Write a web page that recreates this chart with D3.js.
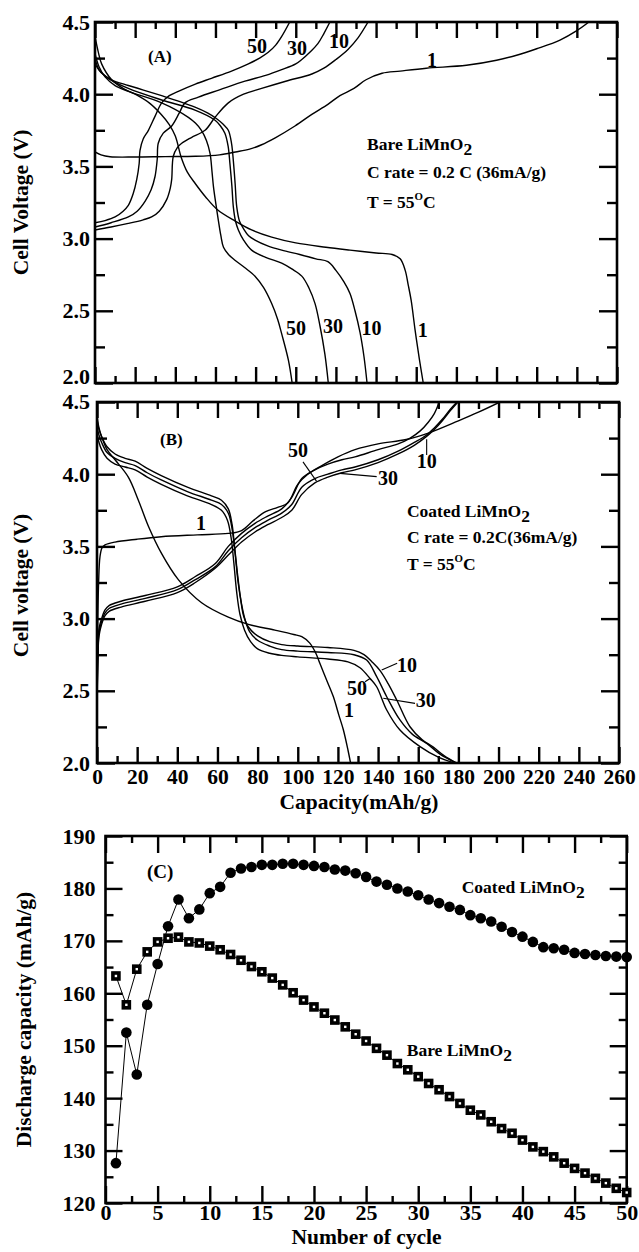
<!DOCTYPE html>
<html>
<head>
<meta charset="utf-8">
<script src="https://cdn.jsdelivr.net/npm/d3@7"></script>
<style>
  html, body { margin: 0; padding: 0; background: #fff; }
  svg { display: block; }
  text { font-family: "Liberation Serif", "Times New Roman", serif; font-weight: bold; fill: #000; }
</style>
</head>
<body>
<svg id="chart" width="639" height="1252"></svg>
<script>
// ---------- tick values ----------
const capMajor = d3.range(0, 261, 20);
const capMinor = d3.range(10, 260, 20);
const voltMajor = [2.0, 2.5, 3.0, 3.5, 4.0, 4.5];
const voltMinor = [2.25, 2.75, 3.25, 3.75, 4.25];
const cycleMajor = d3.range(0, 51, 5);
const cycleMinor = d3.range(2.5, 50, 5);
const dischargeMajor = d3.range(120, 191, 10);
const dischargeMinor = d3.range(125, 190, 10);

// ---------- (A) bare LiMnO2 : [capacity mAh/g, voltage V] ----------
const bareCharge1 = [[0,3.60],[3,3.58],[7.5,3.567],[20,3.565],[35,3.568],[50,3.57],[62,3.58],[70,3.60],[77,3.62],[83,3.65],[90,3.70],[99.6,3.78],[108,3.86],[116,3.93],[122,3.99],[129,4.04],[135,4.10],[143,4.145],[152,4.16],[165,4.18],[185,4.20],[200,4.235],[210,4.27],[220,4.315],[231.6,4.375],[240,4.44],[246,4.5]];
const bareCharge10 = [[0,3.06],[8,3.08],[16.6,3.105],[24,3.13],[28.2,3.15],[32,3.19],[35.7,3.27],[37.5,3.35],[38.2,3.41],[39,3.57],[41,3.63],[43.2,3.66],[48,3.70],[54.8,3.75],[59.8,3.84],[66.4,3.94],[74,4.00],[83,4.04],[95,4.09],[108,4.14],[114,4.18],[120,4.24],[126,4.31],[131,4.39],[136,4.5]];
const bareCharge30 = [[0,3.08],[8,3.11],[16.6,3.15],[21,3.19],[25,3.26],[28,3.34],[29.9,3.43],[31,3.55],[31.5,3.66],[34,3.73],[38.2,3.78],[42,3.87],[44.8,3.94],[51.5,3.98],[62,4.03],[74.7,4.09],[85,4.13],[93,4.17],[100,4.21],[103,4.24],[107,4.29],[111,4.35],[114,4.42],[117,4.5]];
const bareCharge50 = [[0,3.11],[5,3.125],[10,3.15],[14,3.19],[16.6,3.23],[19,3.31],[20.8,3.41],[22,3.52],[22.4,3.61],[24,3.69],[26.6,3.75],[30,3.85],[33.2,3.94],[37,3.99],[41.5,4.02],[50,4.07],[58,4.11],[68,4.16],[76.4,4.21],[82,4.25],[86.3,4.29],[90,4.34],[93,4.40],[97,4.5]];
const bareDischarge1 = [[0,4.40],[1.5,4.30],[3.3,4.21],[8.3,4.10],[14,4.04],[20,4.0],[27,3.94],[33,3.86],[37,3.79],[40,3.71],[43,3.56],[46,3.46],[50,3.38],[55,3.29],[61,3.20],[70,3.12],[78,3.06],[88,3.01],[100,2.97],[115,2.94],[127,2.92],[140,2.90],[148,2.89],[152,2.86],[154.5,2.78],[156,2.68],[157.5,2.57],[159.4,2.37],[161.5,2.17],[163.5,2.0]];
const bareDischarge10 = [[0,4.21],[3,4.15],[8.3,4.10],[16.6,4.06],[33.2,3.99],[49.8,3.91],[56,3.87],[60.6,3.83],[64,3.79],[66.4,3.75],[68,3.66],[68.9,3.54],[69.8,3.38],[70.6,3.22],[72,3.12],[73.9,3.07],[76.5,3.02],[79.7,2.99],[86,2.95],[93,2.92],[102,2.89],[110,2.86],[116,2.84],[120,2.78],[124,2.70],[127,2.62],[129.5,2.50],[132,2.35],[134,2.18],[135.5,2.0]];
const bareDischarge30 = [[0,4.25],[2,4.17],[6.6,4.11],[16.6,4.04],[33.2,3.96],[49.8,3.89],[59.8,3.82],[62.5,3.78],[64.7,3.73],[66.3,3.64],[67.2,3.52],[68.2,3.36],[68.9,3.22],[70,3.12],[71.4,3.06],[74,2.99],[78,2.92],[85,2.87],[93,2.83],[98,2.79],[103,2.74],[106.5,2.66],[109.6,2.55],[112,2.40],[114.5,2.2],[116.2,2.0]];
const bareDischarge50 = [[0,4.28],[2,4.19],[5,4.12],[10,4.06],[16.6,4.02],[33.2,3.94],[46.5,3.84],[50,3.80],[53,3.75],[55.5,3.68],[57.3,3.59],[58.3,3.46],[59,3.36],[60.2,3.24],[61.4,3.13],[62.7,3.02],[64,2.94],[66.5,2.89],[69.7,2.85],[74.5,2.80],[79.7,2.74],[84,2.66],[88,2.55],[91,2.44],[93,2.34],[96.3,2.16],[98.2,2.0]];

// ---------- (B) coated LiMnO2 : [capacity mAh/g, voltage V] ----------
const coatedCharge1 = [[0,2.45],[0.3,2.9],[0.8,3.25],[1.5,3.43],[2.5,3.49],[4,3.51],[9,3.53],[20,3.55],[32,3.567],[50,3.58],[65.4,3.59],[72,3.61],[78,3.68],[84,3.74],[90,3.77],[95,3.80],[100,3.93],[105,4.00],[112,4.06],[120,4.12],[128.5,4.17],[140,4.21],[154,4.24],[165,4.285],[180,4.37],[190,4.43],[200.7,4.5]];
const coatedCharge10 = [[0,2.3],[0.4,2.7],[1,2.88],[2.3,2.96],[4,3.02],[6,3.05],[12,3.08],[24,3.12],[40,3.18],[49,3.25],[59,3.35],[65.4,3.44],[72,3.53],[78.7,3.60],[85,3.65],[92,3.70],[97,3.75],[102,3.86],[108.5,3.94],[115,3.98],[122,4.01],[128.5,4.03],[140,4.08],[150,4.14],[158,4.20],[164,4.26],[168,4.31],[172,4.37],[176,4.44],[179.8,4.5]];
const coatedCharge30 = [[0,2.3],[0.4,2.72],[1,2.9],[2.3,2.98],[4,3.04],[6,3.07],[12,3.10],[24,3.14],[40,3.2],[49,3.27],[59,3.36],[65.4,3.47],[72,3.56],[78.7,3.63],[85,3.68],[92,3.73],[97,3.79],[102,3.91],[108.5,3.97],[115,4.0],[122,4.03],[128.5,4.05],[140,4.10],[150,4.16],[158,4.22],[164,4.27],[168,4.32],[172,4.38],[176,4.45],[179.3,4.5]];
const coatedCharge50 = [[0,2.3],[0.4,2.75],[1,2.93],[2.3,3.0],[4,3.06],[6,3.09],[12,3.12],[24,3.16],[40,3.22],[48.8,3.29],[58.8,3.38],[65.4,3.50],[72,3.59],[78.7,3.66],[85,3.71],[92,3.76],[97,3.84],[102,3.97],[108.5,4.03],[115,4.07],[122,4.10],[128.5,4.12],[140,4.17],[150,4.21],[156,4.25],[161,4.30],[165,4.36],[168,4.42],[170.5,4.5]];
const coatedDischarge1 = [[0,4.40],[1,4.32],[2.3,4.26],[5,4.17],[9,4.10],[15.6,3.98],[20.6,3.82],[25.6,3.64],[32.2,3.45],[40.5,3.27],[52.1,3.11],[65.4,3.01],[75.4,2.96],[88.6,2.92],[98,2.89],[102,2.875],[106,2.83],[109,2.76],[111,2.69],[114.5,2.57],[117.7,2.46],[120.5,2.33],[122.7,2.23],[125,2.09],[126.3,2.0]];
const coatedDischarge10 = [[0,4.38],[1,4.31],[2.3,4.26],[5,4.19],[9,4.14],[14,4.11],[19,4.09],[25,4.04],[32,3.99],[45,3.91],[57,3.85],[62,3.82],[65.4,3.76],[67.3,3.65],[68.5,3.50],[69.8,3.33],[71.5,3.14],[73,3.02],[75.5,2.94],[80,2.88],[86,2.84],[92,2.82],[100,2.81],[115,2.80],[128,2.78],[133,2.75],[137,2.70],[141,2.64],[145,2.55],[149.3,2.436],[155.9,2.251],[162,2.16],[167.5,2.11],[173,2.05],[179,2.0]];
const coatedDischarge30 = [[0,4.33],[1,4.27],[2.3,4.22],[5,4.15],[9,4.11],[14,4.08],[19,4.06],[25,4.01],[32,3.96],[45,3.88],[57,3.82],[62,3.79],[65.4,3.73],[67.3,3.62],[68.8,3.45],[70.3,3.25],[72,3.10],[73.8,2.99],[76,2.91],[80,2.85],[86,2.81],[92,2.785],[100,2.775],[115,2.765],[128,2.75],[134.3,2.713],[139.3,2.598],[144.3,2.459],[150.9,2.298],[157,2.2],[164.2,2.136],[171,2.06],[179,2.0]];
const coatedDischarge50 = [[0,4.28],[1,4.22],[2.3,4.17],[5,4.11],[9,4.07],[14,4.05],[19,4.03],[25,3.98],[32,3.93],[45,3.85],[57,3.79],[62,3.75],[65,3.68],[66.8,3.56],[68.2,3.38],[69.6,3.18],[71.2,3.03],[73.5,2.92],[76.5,2.84],[80,2.79],[86,2.76],[92,2.745],[100,2.735],[115,2.72],[125,2.70],[131,2.66],[136,2.585],[139.3,2.528],[144.3,2.367],[150.9,2.228],[160.9,2.113],[170,2.04],[178,2.0]];

// ---------- (C) discharge capacity per cycle ----------
const cycles = d3.range(1, 51);
const coatedCapacity = [127.6,152.5,144.5,157.8,165.6,172.8,177.9,174.3,176.0,179.1,
  180.3,183.0,183.8,184.1,184.5,184.5,184.7,184.7,184.5,184.3,
  184.1,183.6,183.4,182.9,182.2,181.3,180.7,180.0,179.4,178.7,
  177.9,177.2,176.5,175.9,174.9,174.3,173.7,172.7,171.7,170.8,
  169.8,168.8,168.6,168.3,167.7,167.5,167.3,167.1,167.0,166.9];
const bareCapacity = [163.3,157.8,164.6,167.9,169.8,170.5,170.7,169.8,169.6,169.0,
  168.3,167.4,166.3,165.1,164.1,162.9,161.6,160.1,158.7,157.4,
  156.2,154.9,153.6,152.2,150.9,149.5,148.2,146.6,145.4,144.1,
  142.8,141.6,140.3,139.0,137.7,136.8,135.5,134.2,133.3,132.0,
  130.7,129.8,128.8,127.6,126.6,125.7,124.7,123.8,122.8,122.0];

// ---------- curve labels : [text, capacity, voltage] ----------
const bareCurveLabels = [["50",80.7,4.285],["30",100.6,4.271],["10",121.5,4.32],["1",167.8,4.188],
  ["50",100.1,2.332],["30",118.5,2.346],["10",137.7,2.332],["1",163.2,2.319]];
const coatedCurveLabels = [["50",100.1,4.119],["1",51.8,3.614],["30",144.9,3.925],["10",164.3,4.043],
  ["10",154.4,2.63],["50",129.5,2.471],["30",163.8,2.388],["1",125.5,2.319]];
// leader lines : [from capacity, from voltage, to capacity, to voltage]
const coatedLeaders = [[102.6,4.085,109.4,3.95],[139.3,3.983,121,4.006],[164.2,4.133,164.2,4.242],
  [149.5,2.69,141.8,2.644],[133.5,2.563,136,2.585],[158.4,2.413,142.6,2.448]];

// ---------- layout ----------
const svg = d3.select("#chart");
const FONT_TICK_V = 22, FONT_TICK = 21.5, FONT_TITLE = 21.5, FONT_NOTE = 17.5, FONT_CURVE = 20;

const xA = d3.scaleLinear([0, 260], [95, 617]);
const yA = d3.scaleLinear([2, 4.5], [383, 22]);
const xB = d3.scaleLinear([0, 260], [97, 619]);
const yB = d3.scaleLinear([2, 4.5], [763, 402]);
const xC = d3.scaleLinear([0, 50], [105.5, 626.7]);
const yC = d3.scaleLinear([120, 190], [1203, 836]);

function addAxis(axis, tx, ty, opts = {}) {
  const g = svg.append("g").attr("transform", `translate(${tx},${ty})`).call(axis);
  g.attr("font-size", null).attr("font-family", null);
  g.select(".domain").remove();
  g.selectAll("line").attr("stroke", "#000").attr("stroke-width", opts.w || 2.4);
  g.selectAll("text").style("font-size", (opts.fs || FONT_TICK) + "px");
  return g;
}

function framePanel(x, y, o) {
  const [x0, x1] = x.range(), [yb, yt] = y.range();
  // inward ticks on all four sides
  const left = addAxis(d3.axisLeft(y).tickValues(o.yMajor).tickSizeInner(-o.yMajLen).tickSizeOuter(0)
    .tickPadding(o.yPad).tickFormat(o.yFmt), x0, 0, { fs: o.yFs });
  addAxis(d3.axisLeft(y).tickValues(o.yMinor).tickSizeInner(-o.yMinLen).tickSizeOuter(0).tickFormat(""), x0, 0);
  addAxis(d3.axisRight(y).tickValues(o.yMajor).tickSizeInner(-o.yMajLen).tickSizeOuter(0).tickFormat(""), x1, 0);
  addAxis(d3.axisRight(y).tickValues(o.yMinor).tickSizeInner(-o.yMinLen).tickSizeOuter(0).tickFormat(""), x1, 0);
  addAxis(d3.axisTop(x).tickValues(o.xMajor).tickSizeInner(-o.xMajLen).tickSizeOuter(0).tickFormat(""), 0, yt);
  addAxis(d3.axisTop(x).tickValues(o.xMinor).tickSizeInner(-o.xMinLen).tickSizeOuter(0).tickFormat(""), 0, yt);
  addAxis(d3.axisBottom(x).tickValues(o.xMajor).tickSizeInner(-o.xMajLen).tickSizeOuter(0)
    .tickPadding(o.xPad || 0).tickFormat(o.xFmt || ""), 0, yb, { fs: o.xFs });
  addAxis(d3.axisBottom(x).tickValues(o.xMinor).tickSizeInner(-o.xMinLen).tickSizeOuter(0).tickFormat(""), 0, yb);
  svg.append("rect").attr("x", x0).attr("y", yt).attr("width", x1 - x0).attr("height", yb - yt)
    .attr("fill", "none").attr("stroke", "#000").attr("stroke-width", 2.6);
  return left;
}

function clipFor(id, x, y) {
  const [x0, x1] = x.range(), [yb, yt] = y.range();
  svg.append("clipPath").attr("id", id).append("rect")
    .attr("x", x0).attr("y", yt).attr("width", x1 - x0).attr("height", yb - yt);
  return `url(#${id})`;
}

function drawCurves(series, x, y, clipId) {
  const line = d3.line().x(d => x(d[0])).y(d => y(d[1])).curve(d3.curveCatmullRom.alpha(0.5));
  svg.append("g").attr("clip-path", clipFor(clipId, x, y))
    .selectAll("path").data(series).join("path")
    .attr("d", line).attr("fill", "none").attr("stroke", "#000").attr("stroke-width", 1.4);
}

function curveLabels(labels, x, y) {
  svg.append("g").selectAll("text").data(labels).join("text")
    .attr("x", d => x(d[1])).attr("y", d => y(d[2]))
    .attr("text-anchor", "middle").style("font-size", FONT_CURVE + "px").text(d => d[0]);
}

// text with chemical subscript / superscript parts
function note(x, y, parts, size) {
  const t = svg.append("text").attr("x", x).attr("y", y).style("font-size", size + "px");
  parts.forEach(p => {
    const s = t.append("tspan").text(p.t);
    if (p.sub) s.attr("dy", 5);
    if (p.sup) s.attr("dy", -8).style("font-size", (size * 0.62) + "px");
    if (p.back) s.attr("dy", p.back);
  });
  return t;
}

const fmtV = d3.format(".1f");

// ---------- panel A ----------
const leftA = framePanel(xA, yA, {
  yMajor: voltMajor, yMinor: voltMinor, yMajLen: 18, yMinLen: 10, yPad: 5, yFmt: fmtV, yFs: FONT_TICK_V,
  xMajor: capMajor, xMinor: capMinor, xMajLen: 16, xMinLen: 7
});
drawCurves([bareCharge1, bareCharge10, bareCharge30, bareCharge50,
            bareDischarge1, bareDischarge10, bareDischarge30, bareDischarge50], xA, yA, "clipA");
curveLabels(bareCurveLabels, xA, yA);
note(xA(26.4), yA(4.223), [{ t: "(A)" }], 17);
note(xA(135.5), yA(3.614), [{ t: "Bare LiMnO" }, { t: "2", sub: true }], FONT_NOTE);
note(xA(135.5), yA(3.42), [{ t: "C rate = 0.2 C (36mA/g)" }], FONT_NOTE);
note(xA(135.5), yA(3.212), [{ t: "T = 55" }, { t: "O", sup: true }, { t: "C", back: 8 }], FONT_NOTE);

// ---------- panel B ----------
const leftB = framePanel(xB, yB, {
  yMajor: voltMajor, yMinor: voltMinor, yMajLen: 18, yMinLen: 10, yPad: 7, yFmt: fmtV, yFs: FONT_TICK_V,
  xMajor: capMajor, xMinor: capMinor, xMajLen: 16, xMinLen: 7, xPad: 5.5, xFmt: d3.format("d"), xFs: FONT_TICK
});
drawCurves([coatedCharge1, coatedCharge10, coatedCharge30, coatedCharge50,
            coatedDischarge1, coatedDischarge10, coatedDischarge30, coatedDischarge50], xB, yB, "clipB");
svg.append("g").selectAll("line").data(coatedLeaders).join("line")
  .attr("x1", d => xB(d[0])).attr("y1", d => yB(d[1]))
  .attr("x2", d => xB(d[2])).attr("y2", d => yB(d[3]))
  .attr("stroke", "#000").attr("stroke-width", 1.1);
curveLabels(coatedCurveLabels, xB, yB);
note(xB(31.4), yB(4.202), [{ t: "(B)" }], 17);
note(xB(154.4), yB(3.704), [{ t: "Coated LiMnO" }, { t: "2", sub: true }], FONT_NOTE);
note(xB(154.4), yB(3.524), [{ t: "C rate = 0.2C(36mA/g)" }], FONT_NOTE);
note(xB(154.4), yB(3.337), [{ t: "T = 55" }, { t: "O", sup: true }, { t: "C", back: 8 }], FONT_NOTE);

// the 2.0 / 4.5 labels where panels A and B meet are nudged apart
leftA.selectAll("g.tick").filter(d => d === 2).select("text").attr("transform", "translate(0,-7)");
leftB.selectAll("g.tick").filter(d => d === 4.5).select("text").attr("transform", "translate(0,-1)");

svg.append("text").attr("x", 359).attr("y", 808.5).attr("text-anchor", "middle")
  .style("font-size", FONT_TITLE + "px").text("Capacity(mAh/g)");
svg.append("text").attr("transform", `translate(28,${(yA.range()[0] + yA.range()[1]) / 2}) rotate(-90)`)
  .attr("text-anchor", "middle").style("font-size", FONT_TITLE + "px").text("Cell Voltage (V)");
svg.append("text").attr("transform", `translate(28,${(yB.range()[0] + yB.range()[1]) / 2 + 3}) rotate(-90)`)
  .attr("text-anchor", "middle").style("font-size", FONT_TITLE + "px").text("Cell voltage (V)");

// ---------- panel C ----------
framePanel(xC, yC, {
  yMajor: dischargeMajor, yMinor: dischargeMinor, yMajLen: 17, yMinLen: 8, yPad: 10, yFmt: d3.format("d"), yFs: 22,
  xMajor: cycleMajor, xMinor: cycleMinor, xMajLen: 17, xMinLen: 7, xPad: 1.4, xFmt: d3.format("d"), xFs: 22
});

const bareSeries = cycles.map((c, i) => [c, bareCapacity[i]]);
const coatedSeries = cycles.map((c, i) => [c, coatedCapacity[i]]);
const linC = d3.line().x(d => xC(d[0])).y(d => yC(d[1]));

svg.append("path").attr("d", linC(bareSeries)).attr("fill", "none").attr("stroke", "#000").attr("stroke-width", 1);
svg.append("path").attr("d", linC(coatedSeries)).attr("fill", "none").attr("stroke", "#000").attr("stroke-width", 1);

const sq = 6;
svg.append("g").selectAll("rect").data(bareSeries).join("rect")
  .attr("x", d => xC(d[0]) - sq / 2).attr("y", d => yC(d[1]) - sq / 2)
  .attr("width", sq).attr("height", sq)
  .attr("fill", "#fff").attr("stroke", "#000").attr("stroke-width", 3.6);
svg.append("g").selectAll("circle").data(coatedSeries).join("circle")
  .attr("cx", d => xC(d[0])).attr("cy", d => yC(d[1])).attr("r", 5.3).attr("fill", "#000");

note(xC(3.98), yC(182.0), [{ t: "(C)" }], 19);
note(xC(34.17), yC(179.13), [{ t: "Coated LiMnO" }, { t: "2", sub: true }], FONT_NOTE);
note(xC(28.9), yC(148.0), [{ t: "Bare LiMnO" }, { t: "2", sub: true }], FONT_NOTE);

svg.append("text").attr("x", 366.5).attr("y", 1244).attr("text-anchor", "middle")
  .style("font-size", FONT_TITLE + "px").text("Number of cycle");
svg.append("text").attr("transform", `translate(31,${(yC.range()[0] + yC.range()[1]) / 2}) rotate(-90)`)
  .attr("text-anchor", "middle").style("font-size", FONT_TITLE + "px").text("Discharge capacity (mAh/g)");
</script>
</body>
</html>
